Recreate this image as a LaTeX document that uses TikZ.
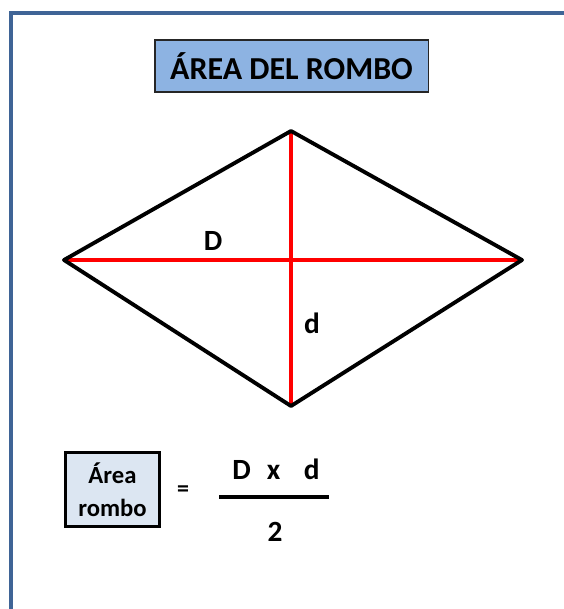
\documentclass[tikz,border=0pt]{standalone}
\usepackage{fontspec}
\setmainfont{Carlito}
\usetikzlibrary{positioning,calc}
\definecolor{cFrame}{HTML}{3F6496}
\definecolor{cTitleBg}{HTML}{8DB3E2}
\definecolor{cBoxBg}{HTML}{DCE6F2}
\definecolor{cDiag}{HTML}{FF0000}
\tikzset{
  titlebox/.style={draw=black!85, line width=1pt, fill=cTitleBg, font=\fontsize{24}{28}\selectfont\bfseries,
    minimum width=205pt, minimum height=39pt, inner sep=0pt},
  areabox/.style={draw=black, line width=2.2pt, fill=cBoxBg, align=center, font=\fontsize{18.5}{25}\selectfont\bfseries,
    minimum width=71pt, minimum height=55pt, inner sep=0pt},
  side/.style={draw=black, line width=2.9pt, line join=round},
  diag/.style={draw=cDiag, line width=2.9pt},
  lbl/.style={font=\fontsize{22}{26}\selectfont\bfseries, inner sep=1pt},
}
\begin{document}
\begin{tikzpicture}[x=0.75pt, y=-0.75pt]
    \useasboundingbox (0,0) rectangle (563,609);
    % frame
    \draw[cFrame, line width=2.6pt] (11,612) -- (11,13) -- (566,13);
    % title
    \node[titlebox] (title) at (291.5,66) {ÁREA DEL ROMBO};
    % rhombus
    \coordinate (W) at (64,260);
    \coordinate (N) at (291,131);
    \coordinate (E) at (522,260);
    \coordinate (S) at (291,406);
    \draw[diag] (W) -- (E);
    \draw[diag] (N) -- (S);
    \draw[side] (W) -- (N) -- (E) -- (S) -- cycle;
    \node[lbl] (big) at (213,241) {D};
    \node[lbl] (small) at (312,323) {d};
    % formula
    \node[lbl] (num) at (276,469) {D\hspace{0.55em}x\hspace{0.8em}d};
    \node[areabox] (area) at (112.5,489.5) {Área\\rombo};
    \node[font=\fontsize{18}{20}\selectfont\bfseries] (eq) at (183,491) {=};
    \node[lbl] (den) at (275,532) {2};
    \coordinate (barL) at (219,497);
    \coordinate (barR) at (329,497);
    \draw[line width=2.8pt] (barL) -- (barR);
  \end{tikzpicture}
\end{document}
